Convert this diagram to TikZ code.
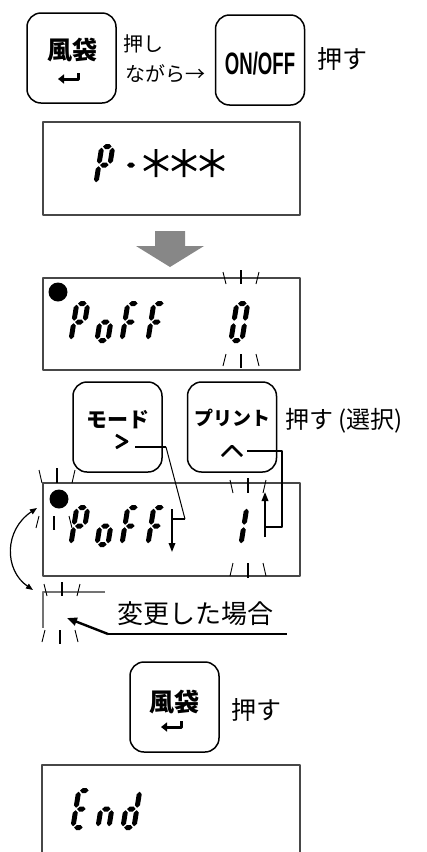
\documentclass[tikz,border=0pt]{standalone}
\usepackage{fontspec}
\usepackage{graphicx}
\usetikzlibrary{arrows.meta}
\newfontfamily\jp{Noto Sans CJK JP}
\newfontfamily\lib{Liberation Sans}
\newcommand{\sH}[3]{\fill (#1,#3) -- (#1+2.5,#3+2.5) -- (#2-2.5,#3+2.5) -- (#2,#3) -- (#2-2.5,#3-2.5) -- (#1+2.5,#3-2.5) -- cycle;}
\newcommand{\sV}[3]{\fill (#1,#2) -- (#1+2.5,#2+2.5) -- (#1+2.5,#3-2.5) -- (#1,#3) -- (#1-2.5,#3-2.5) -- (#1-2.5,#2+2.5) -- cycle;}
\pgfkeys{
 /lcd/a/.code={\sH{3.7}{12.3}{39.5}},
 /lcd/g/.code={\sH{3.7}{12.3}{21}},
 /lcd/d/.code={\sH{3.7}{12.3}{2.5}},
 /lcd/b/.code={\sV{13.5}{22.2}{38.3}},
 /lcd/c/.code={\sV{13.5}{3.7}{19.8}},
 /lcd/e/.code={\sV{2.5}{3.7}{19.8}},
 /lcd/f/.code={\sV{2.5}{22.2}{38.3}},
}
\newcommand{\lcd}[3]{\begin{scope}[shift={(#1,-#2)},xslant=0.16]\pgfkeys{/lcd/.cd,#3}\end{scope}}
\newcommand{\lcdstar}[2]{\draw[line width=2.6pt] (#1,-#2+14) -- (#1,-#2-14) (#1-12,-#2+7) -- (#1+12,-#2-7) (#1-12,-#2-7) -- (#1+12,-#2+7);}
\newcommand{\blinkA}[3]{%
 \draw[blink] (#1-18,-#2) -- (#1-15,-#3);
 \draw[blinkv] (#1,-#2+2) -- (#1,-#3);
 \draw[blink] (#1+18,-#2) -- (#1+15,-#3);}
\newcommand{\blinkB}[3]{%
 \draw[blink] (#1-15,-#2) -- (#1-18,-#3);
 \draw[blinkv] (#1,-#2) -- (#1,-#3-2);
 \draw[blink] (#1+15,-#2) -- (#1+18,-#3);}
\newcommand{\retsym}[2]{\draw[line width=3pt,-{Triangle[length=6pt,width=9pt]}] (#1+9,-#2+6) -- (#1+9,-#2) -- (#1-11,-#2);}
\begin{document}
\begin{tikzpicture}[x=1pt,y=1pt,line join=round,
  disp/.style={draw=black!72,line width=1.1pt,inner sep=0pt},
  btn/.style={draw,line width=1.5pt,rounded corners=14pt,minimum width=89pt,minimum height=90pt,inner sep=0pt},
  blink/.style={line width=0.9pt},
  blinkv/.style={line width=1.9pt},
  conn/.style={line width=1.8pt},
  thin/.style={line width=1pt},
  tip/.style={-{Triangle[length=9pt,width=6.5pt]}},
  lbl/.style={inner sep=0pt,anchor=west},
]
\useasboundingbox (0,0) rectangle (427,-852);

% ---- top row
\node[btn] (k1) at (71.5,-58) {};
\node (k1t) at (72,-50) {\jp\bfseries\fontsize{25}{25}\selectfont 風袋};
\retsym{69}{79}
\node[lbl] (t1) at (123,-44) {\jp\fontsize{20}{20}\selectfont 押し};
\node[lbl] (t2) at (125,-74) {\jp\fontsize{20}{20}\selectfont ながら→};
\node[btn] (k2) at (260,-60) {};
\node (k2t) at (260,-64) {\lib\bfseries\fontsize{31}{31}\selectfont\scalebox{0.6}[1]{ON/OFF}};
\node[lbl] (t3) at (317,-59) {\jp\fontsize{25}{25}\selectfont 押す};

% ---- display 1
\node[disp,minimum width=257pt,minimum height=93pt] (d1) at (171.5,-168.5) {};
\lcd{93}{186}{a,b,f,e,g}
\sH{127}{135}{-165}
\lcdstar{156}{163}
\lcdstar{184}{163}
\lcdstar{212}{163}

% ---- gray arrow
\fill[black!47] (155,-231) -- (185,-231) -- (185,-246) -- (204,-246) -- (170,-267) -- (136,-246) -- (155,-246) -- cycle;

% ---- display 2
\node[disp,minimum width=257pt,minimum height=92pt] (d2) at (171.5,-324) {};
\fill (58,-292) circle (9.5);
\lcd{68}{343}{a,b,f,e,g}
\lcd{94}{343}{c,d,e,g}
\lcd{119}{343}{a,f,e,g}
\lcd{145}{343}{a,f,e,g}
\lcd{228}{343}{a,b,c,d,e,f}
\blinkA{241}{272}{284}
\blinkB{241}{354}{366}

% ---- buttons
\node[btn] (k3) at (117.5,-427) {};
\node (k3t) at (118,-420) {\jp\bfseries\fontsize{21}{21}\selectfont モード};
\draw[line width=2.8pt] (116,-435) -- (127,-441.5) -- (116,-448);
\node[btn] (k4) at (232,-427) {};
\node (k4t) at (232,-418) {\jp\bfseries\fontsize{19}{19}\selectfont プリント};
\draw[line width=2.8pt] (222,-456) -- (232,-446) -- (242,-456);
\node[lbl] (t4) at (285,-421) {\jp\fontsize{24}{24}\selectfont 押す (選択)};

% ---- display 3
\node[disp,minimum width=257pt,minimum height=93pt] (d3) at (171.5,-529.5) {};
\fill (59,-499) circle (9.5);
\lcd{68}{547}{a,b,f,e,g}
\lcd{94}{547}{c,d,e,g}
\lcd{119}{547}{a,f,e,g}
\lcd{145}{547}{a,f,e,g}
\lcd{227}{547}{b,c}
\blinkA{248}{480}{493}
\blinkB{248}{563}{576}
\blinkA{57}{470}{483}
\blinkB{54}{516}{528}

% connectors
\coordinate (m1) at (135,-447);
\coordinate (m2) at (166,-447);
\coordinate (m3) at (185,-519);
\coordinate (m4) at (172,-519);
\coordinate (a1) at (172,-509);
\coordinate (a2) at (172,-552);
\draw[conn] (m1) -- (m2);
\draw[thin] (m2) -- (m3);
\draw[conn] (m3) -- (m4);
\draw[conn,tip] (a1) -- (a2);
\coordinate (p1) at (247,-451);
\coordinate (p2) at (282,-451);
\coordinate (p3) at (282,-527);
\coordinate (p4) at (265,-527);
\coordinate (b1) at (265,-537);
\coordinate (b2) at (265,-492);
\draw[conn] (p1) -- (p2) -- (p3) -- (p4);
\draw[conn,tip] (b1) -- (b2);

% curved double arrow
\coordinate (c1) at (37,-508);
\coordinate (c2) at (33,-590);
\draw[line width=1.2pt,{Triangle[length=7pt,width=5.5pt]}-{Triangle[length=7pt,width=5.5pt]}] (c1) .. controls (4,-530) and (4,-570) .. (c2);

% ---- small partial display
\draw[black!55,line width=1.2pt] (105,-592) -- (43,-592) -- (43,-628);
\blinkA{62}{584}{596}
\blinkB{60}{630}{642}
\coordinate (s1) at (108,-634);
\coordinate (s2) at (67,-618);
\coordinate (s3) at (287,-634);
\draw[line width=2.4pt,-{Triangle[length=10pt,width=8pt]}] (s1) -- (s2);
\draw[line width=2pt] (s1) -- (s3);
\node (t5) at (195,-614) {\jp\fontsize{26}{26}\selectfont 変更した場合};

% ---- bottom
\node[btn] (k5) at (174.5,-707) {};
\node (k5t) at (174,-702) {\jp\bfseries\fontsize{25}{25}\selectfont 風袋};
\retsym{172}{727}
\node[lbl] (t6) at (231,-710) {\jp\fontsize{25}{25}\selectfont 押す};
\draw[black!72,line width=1.1pt] (42,-853) -- (42,-765) -- (300,-765) -- (300,-853);
\lcd{70}{830}{a,d,e,f,g}
\lcd{95}{830}{c,e,g}
\lcd{120}{830}{b,c,d,e,g}
\end{tikzpicture}
\end{document}
